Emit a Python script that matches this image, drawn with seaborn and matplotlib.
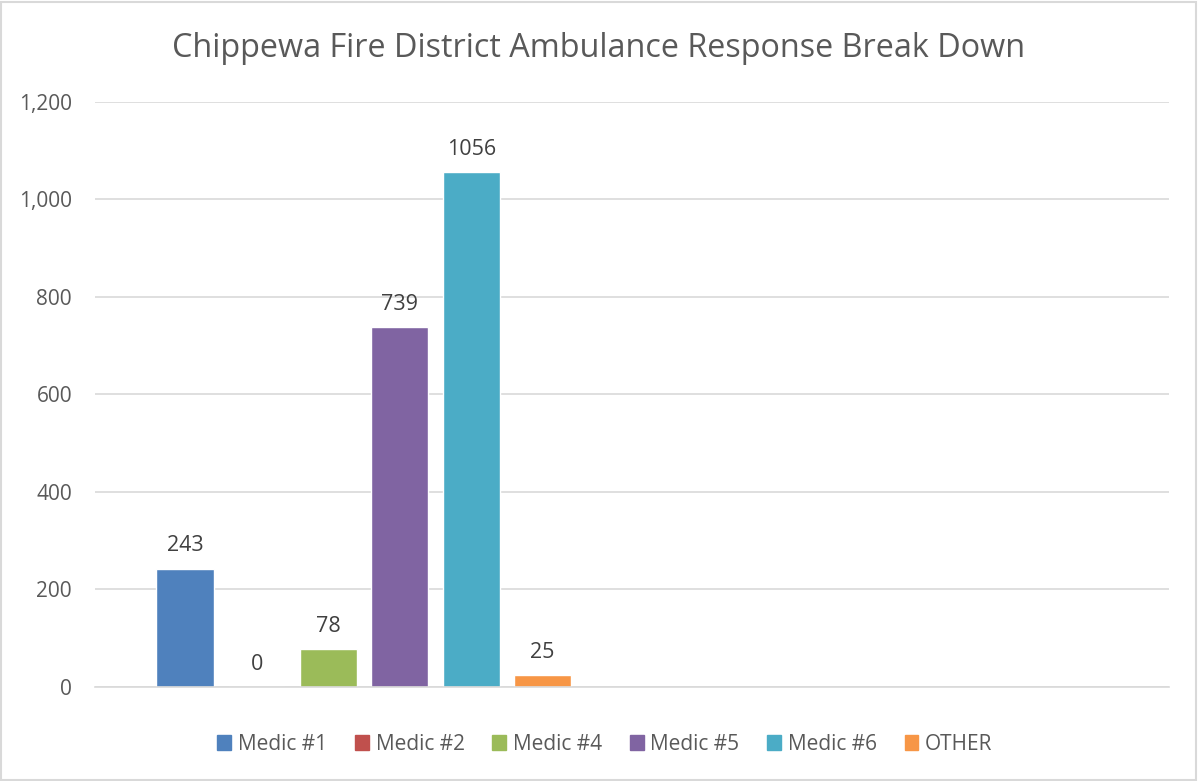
import matplotlib
matplotlib.use("Agg")
import matplotlib.pyplot as plt
import matplotlib.patches as mpatches
import pandas as pd
import seaborn as sns

# data
units = ["Medic #1", "Medic #2", "Medic #4", "Medic #5", "Medic #6", "OTHER"]
responses = [243, 0, 78, 739, 1056, 25]
colors = ["#4f81bd", "#c0504d", "#9bbb59", "#8064a2", "#4bacc6", "#f79646"]

df = pd.DataFrame({"Unit": units, "Responses": responses})

sns.set_theme(style="white")
plt.rcParams['font.family'] = ['Open Sans', 'DejaVu Sans']
txt = "#595959"

fig = plt.figure(figsize=(11.98, 7.81), dpi=100)
ax = fig.add_axes([0.0793, 0.1204, 0.8965, 0.749])

sns.barplot(ax=ax, data=df, x="Unit", y="Responses", hue="Unit",
            palette=colors, width=0.8, legend=False, saturation=1)

for i, v in enumerate(responses):
    ax.text(i, v + 25, f"{v}", ha="center", va="bottom", fontsize=15.5, color="#404040")

ax.set_xlim(-1.26, 13.76)
ax.set_ylim(0, 1200)
ax.set_yticks(range(0, 1201, 200))
ax.set_yticklabels([f"{t:,}" for t in range(0, 1201, 200)], fontsize=15, color=txt)
ax.set_xticks([])
ax.set_xlabel("")
ax.set_ylabel("")
ax.yaxis.grid(True, color="#d9d9d9", linewidth=1.2)
ax.set_axisbelow(True)
for s in ["top", "right", "left"]:
    ax.spines[s].set_visible(False)
ax.spines["bottom"].set_color("#d9d9d9")
ax.spines["bottom"].set_linewidth(1.2)
ax.tick_params(axis="y", length=0, pad=16.5)

fig.text(0.5, 0.927, "Chippewa Fire District Ambulance Response Break Down",
         ha="center", va="baseline", fontsize=23.3, color=txt)

handles = [mpatches.Patch(color=c, label=u) for u, c in zip(units, colors)]
fig.legend(handles=handles, loc="center", bbox_to_anchor=(0.505, 0.047), ncol=6,
           frameon=False, fontsize=15, labelcolor=txt, handlelength=0.67,
           handleheight=0.67, handletextpad=0.32, columnspacing=1.33)

fig.patches.append(mpatches.Rectangle((0.001, 0.001), 0.997, 0.997, transform=fig.transFigure,
                                      fill=False, edgecolor="#d9d9d9", linewidth=1.5))

fig.savefig("out.png", dpi=100, facecolor="white")
